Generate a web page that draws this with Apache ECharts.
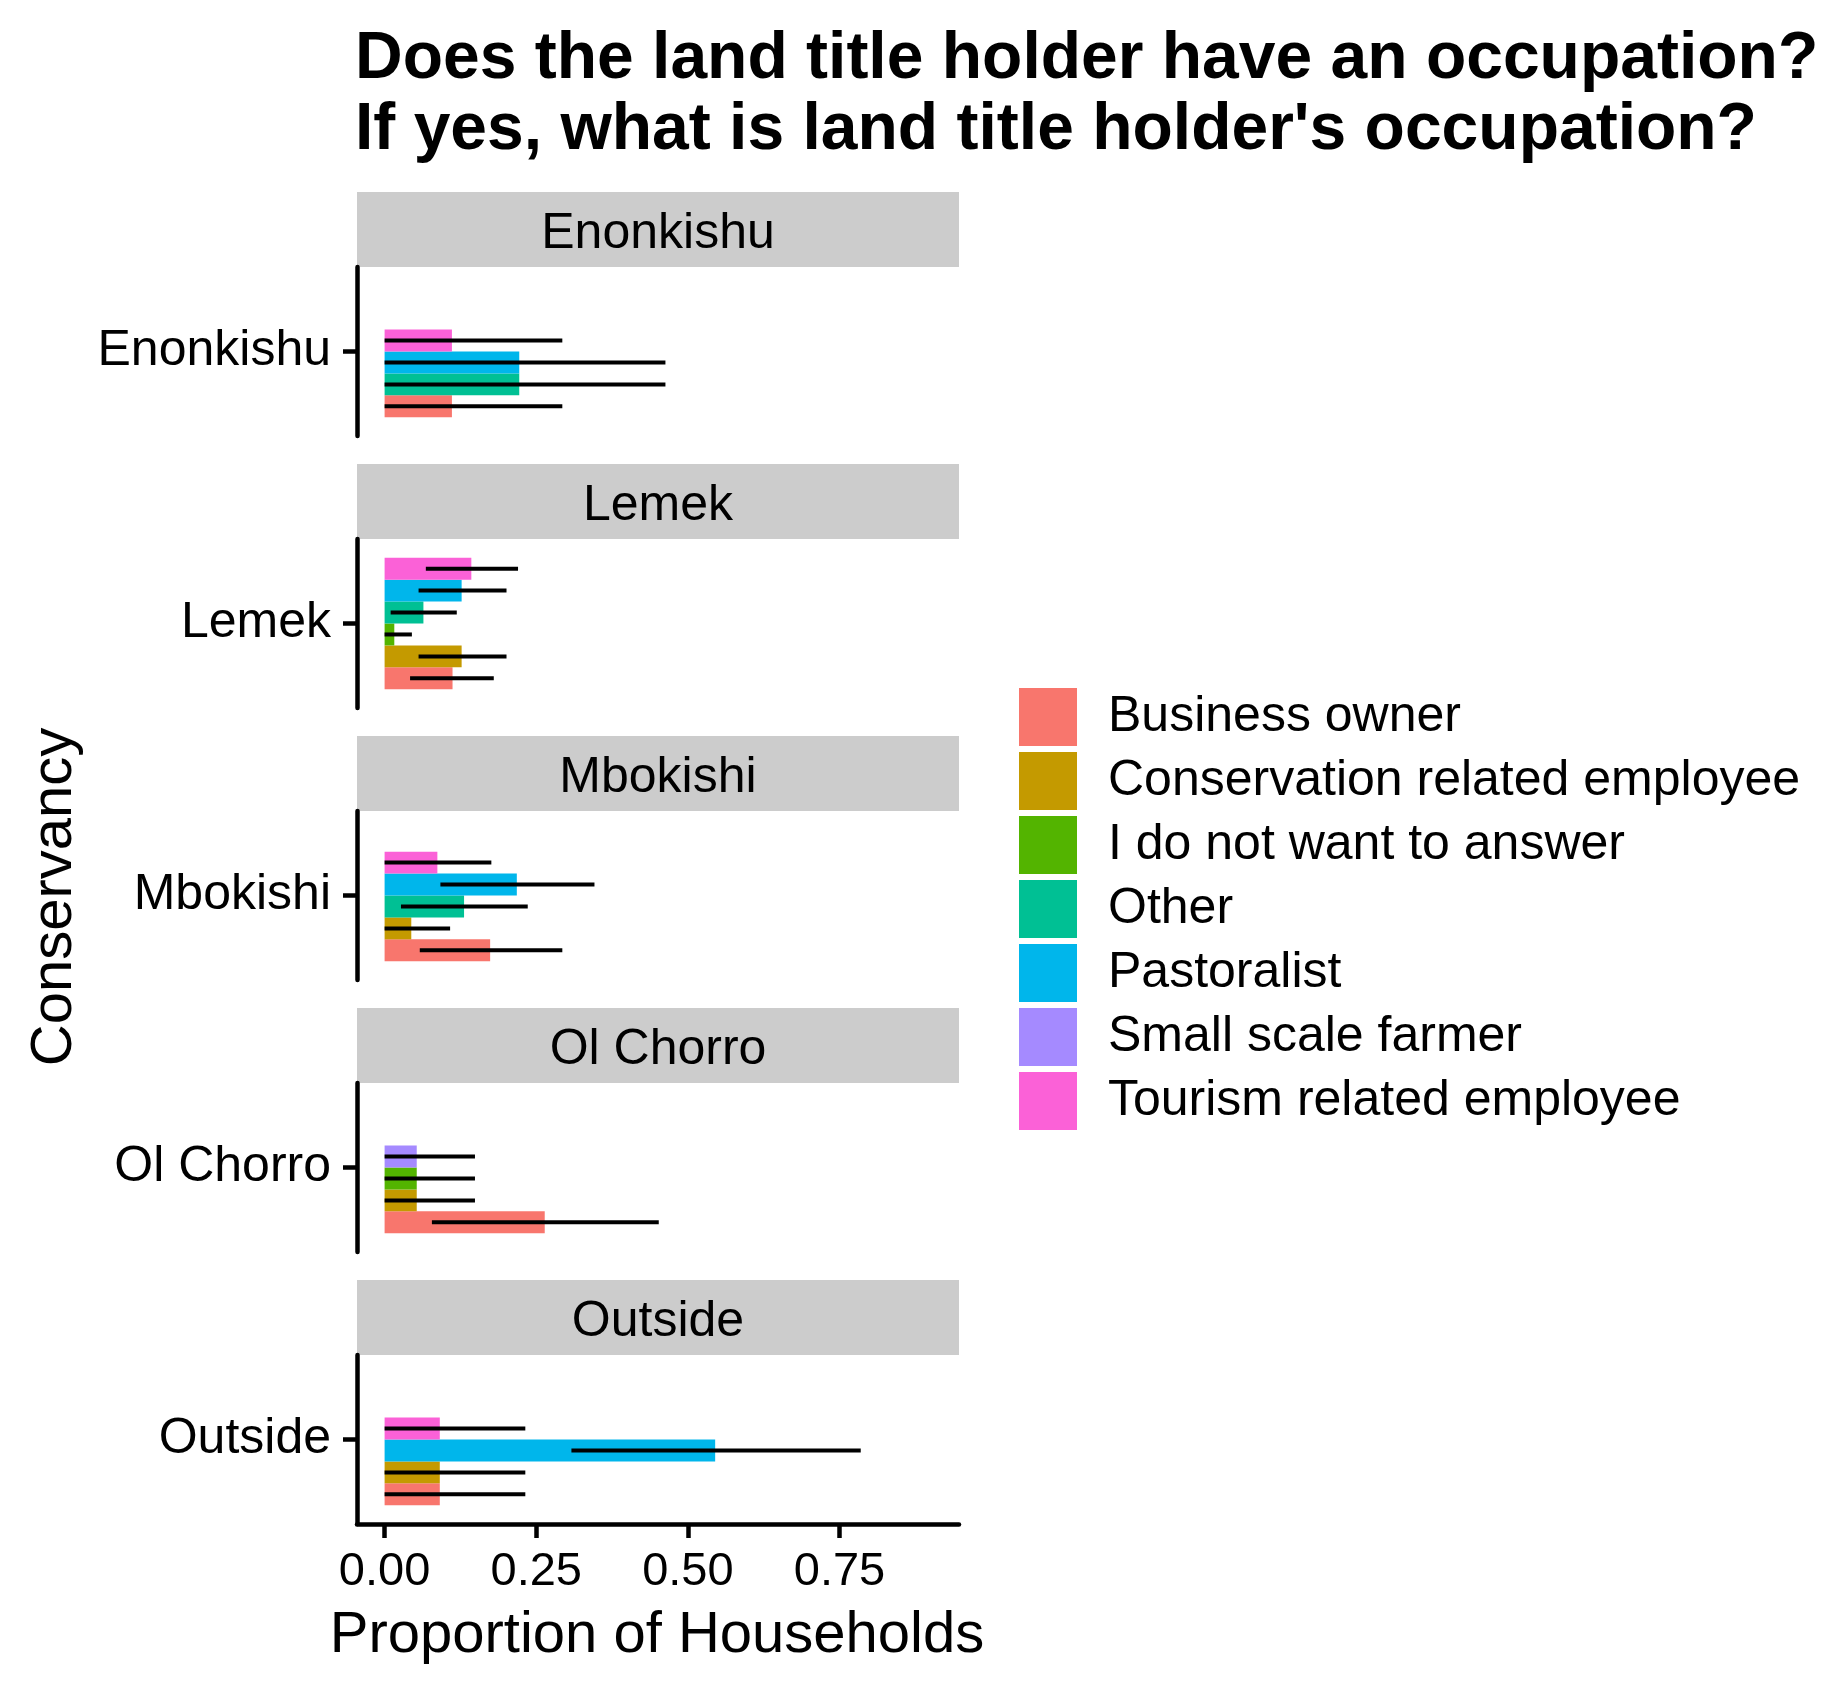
<!DOCTYPE html>
<html>
<head>
<meta charset="utf-8">
<script src="https://cdn.jsdelivr.net/npm/echarts@6/dist/echarts.min.js"></script>
<style>
html,body{margin:0;padding:0;background:#fff;}
#chart{width:1831px;height:1693px;}
</style>
</head>
<body>
<div id="chart"></div>
<script>
// ---------- DATA ----------
const conservancies = ['Enonkishu', 'Lemek', 'Mbokishi', 'Ol Chorro', 'Outside'];
const occupations = ['Business owner', 'Conservation related employee', 'I do not want to answer',
  'Other', 'Pastoralist', 'Small scale farmer', 'Tourism related employee'];
const occupationColors = ['#F8766D', '#C49A00', '#53B400', '#00C094', '#00B6EB', '#A58AFF', '#FB61D7'];

// proportion of households, in occupation order (null = not present)
const enonkishuProp = [0.111, null, null, 0.222, 0.222, null, 0.111];
const enonkishuLow  = [0, null, null, 0, 0, null, 0];
const enonkishuHigh = [0.293, null, null, 0.463, 0.463, null, 0.293];

const lemekProp = [0.112, 0.127, 0.016, 0.064, 0.127, null, 0.143];
const lemekLow  = [0.042, 0.056, 0, 0.010, 0.056, null, 0.068];
const lemekHigh = [0.180, 0.201, 0.045, 0.119, 0.201, null, 0.220];

const mbokishiProp = [0.174, 0.044, null, 0.131, 0.218, null, 0.087];
const mbokishiLow  = [0.058, 0, null, 0.027, 0.092, null, 0];
const mbokishiHigh = [0.293, 0.108, null, 0.236, 0.346, null, 0.176];

const olChorroProp = [0.264, 0.053, 0.053, null, null, 0.053, null];
const olChorroLow  = [0.078, 0, 0, null, null, 0, null];
const olChorroHigh = [0.452, 0.149, 0.149, null, null, 0.149, null];

const outsideProp = [0.091, 0.091, null, null, 0.545, null, 0.091];
const outsideLow  = [0, 0, null, null, 0.308, null, 0];
const outsideHigh = [0.232, 0.232, null, null, 0.785, null, 0.232];

const xTicks = [0, 0.25, 0.5, 0.75];

const propsByPanel = [enonkishuProp, lemekProp, mbokishiProp, olChorroProp, outsideProp];
const lowByPanel = [enonkishuLow, lemekLow, mbokishiLow, olChorroLow, outsideLow];
const highByPanel = [enonkishuHigh, lemekHigh, mbokishiHigh, olChorroHigh, outsideHigh];

// ---------- LAYOUT ----------
const FONT = '"Liberation Sans", Arial, Helvetica, sans-serif';
const stripTops = [192, 464, 736, 1008, 1280];
const STRIP_H = 75;
const PANEL_H = 169;
const PANEL_L = 357, PANEL_R = 959;
const SLOT_FRAC = 22.05 / 170;  // dodge slot height as fraction of the band
const X_MIN = -0.0455, X_MAX = 0.947;

function renderBar(params, api) {
  const v = api.value(0), slot = api.value(2), lo = api.value(3), hi = api.value(4);
  const p0 = api.coord([0, 0]);
  const pv = api.coord([v, 0]);
  const band = api.size([0, 1])[1];
  const slotH = band * SLOT_FRAC;
  const yBottom = p0[1] + 3 * slotH;
  const yTop = yBottom - (slot + 1) * slotH;
  const yc = yTop + slotH / 2;
  const pl = api.coord([lo, 0]), ph = api.coord([hi, 0]);
  return {
    type: 'group',
    children: [
      { type: 'rect', shape: { x: p0[0], y: yTop, width: pv[0] - p0[0], height: slotH },
        style: { fill: api.visual('color') } },
      { type: 'line', shape: { x1: pl[0], y1: yc, x2: ph[0], y2: yc },
        style: { stroke: '#000', lineWidth: 4 } }
    ]
  };
}

const grids = [], xAxes = [], yAxes = [], series = [], graphics = [];
conservancies.forEach((name, p) => {
  const isLast = p === conservancies.length - 1;
  grids.push({ left: PANEL_L, width: PANEL_R - PANEL_L, top: stripTops[p] + STRIP_H, height: PANEL_H,
    containLabel: false, outerBoundsMode: 'none' });
  xAxes.push({
    type: 'value', gridIndex: p, min: X_MIN, max: X_MAX,
    splitLine: { show: false },
    axisLine: { show: isLast, onZero: false, lineStyle: { color: '#000', width: 4.5 } },
    axisTick: { show: isLast, length: 14, customValues: xTicks, lineStyle: { color: '#000', width: 4.5 } },
    axisLabel: { show: isLast, customValues: xTicks, formatter: v => v.toFixed(2),
      fontSize: 47, lineHeight: 47, margin: 25, color: '#000', fontFamily: FONT }
  });
  yAxes.push({
    type: 'category', gridIndex: p, data: [name],
    axisLine: { show: true, onZero: false, lineStyle: { color: '#000', width: 4.5 } },
    axisTick: { show: true, alignWithLabel: true, length: 14, lineStyle: { color: '#000', width: 4.5 } },
    axisLabel: { fontSize: 50, lineHeight: 50, padding: [7, 0, 0, 0], margin: 26, color: '#000', fontFamily: FONT },
    splitLine: { show: false }
  });
  // dodge slots (bottom-aligned, preserve single)
  let slot = 0;
  occupations.forEach((occ, c) => {
    const v = propsByPanel[p][c];
    const data = [];
    if (v !== null) {
      data.push([v, 0, slot, lowByPanel[p][c], highByPanel[p][c]]);
      slot++;
    }
    series.push({
      type: 'custom', name: occ, xAxisIndex: p, yAxisIndex: p,
      itemStyle: { color: occupationColors[c] },
      encode: { x: 0, y: 1 },
      renderItem: renderBar, data: data, silent: true
    });
  });
  // facet strip
  graphics.push({ type: 'rect', x: PANEL_L, y: stripTops[p], shape: { width: PANEL_R - PANEL_L, height: STRIP_H },
    style: { fill: '#CCCCCC' }, z: 0 });
  graphics.push({ type: 'text', x: (PANEL_L + PANEL_R) / 2, y: stripTops[p] + 42,
    style: { text: name, fontSize: 50, fontFamily: FONT, fill: '#000', align: 'center', verticalAlign: 'middle' } });
});

graphics.push({ type: 'text', x: 657, y: 1636,
  style: { text: 'Proportion of Households', fontSize: 58, fontFamily: FONT, fill: '#000', align: 'center', verticalAlign: 'middle' } });
graphics.push({ type: 'text', x: 55, y: 897, rotation: Math.PI / 2,
  style: { text: 'Conservancy', fontSize: 58, fontFamily: FONT, fill: '#000', align: 'center', verticalAlign: 'middle' } });

const option = {
  backgroundColor: '#fff',
  animation: false,
  title: {
    text: "Does the land title holder have an occupation?\nIf yes, what is land title holder's occupation?",
    left: 355, top: 24, padding: 0,
    textStyle: { fontSize: 66, fontWeight: 'bold', lineHeight: 71, color: '#000', fontFamily: FONT }
  },
  legend: {
    orient: 'vertical', left: 1019, top: 688, padding: 0,
    itemWidth: 58, itemHeight: 58, itemGap: 6, icon: 'rect', selectedMode: false,
    data: occupations,
    textStyle: { fontSize: 50, lineHeight: 49, color: '#000', fontFamily: FONT, padding: [9, 0, 0, 26] }
  },
  grid: grids, xAxis: xAxes, yAxis: yAxes, series: series,
  graphic: graphics
};

const chart = echarts.init(document.getElementById('chart'), null, { renderer: 'canvas' });
chart.setOption(option);
</script>
</body>
</html>
